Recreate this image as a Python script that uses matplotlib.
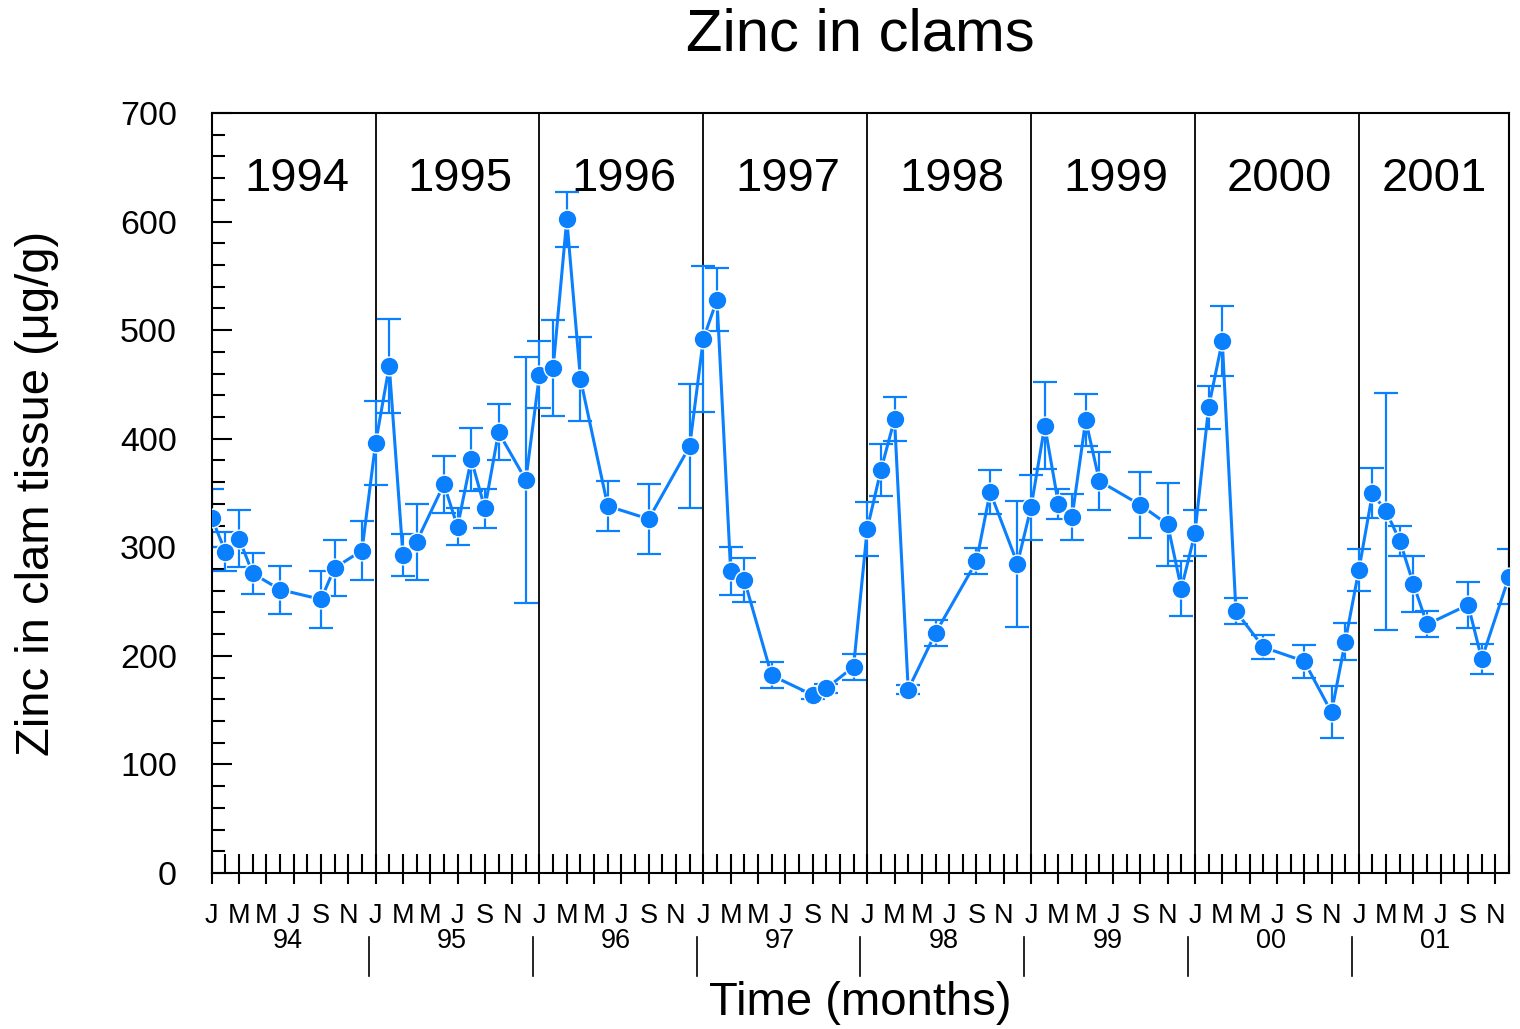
import matplotlib
matplotlib.use('Agg')
import matplotlib.pyplot as plt
from matplotlib.ticker import MultipleLocator, FixedLocator, FixedFormatter

plt.rcParams['font.family'] = ['Liberation Sans', 'DejaVu Sans']

# months counted from Jan 1994 (0 = Jan 94)
month = [0, 1, 2, 3, 5, 8, 9, 11,
         12, 13, 14, 15, 17, 18, 19, 20, 21, 23,
         24, 25, 26, 27, 29, 32, 35,
         36, 37, 38, 39, 41, 44, 45, 47,
         48, 49, 50, 51, 53, 56, 57, 59,
         60, 61, 62, 63, 64, 65, 68, 70, 71,
         72, 73, 74, 75, 77, 80, 82, 83,
         84, 85, 86, 87, 88, 89, 92, 93, 95]
zinc = [327, 296, 308, 276, 261, 252, 281, 297,
        396, 467, 293, 305, 358, 319, 381, 336, 406, 362,
        459, 465, 602, 455, 338, 326, 393,
        492, 528, 278, 270, 182, 164, 170, 190,
        317, 371, 418, 169, 221, 287, 351, 285,
        337, 412, 340, 328, 417, 361, 339, 321, 262,
        313, 429, 490, 241, 208, 195, 148, 213,
        279, 350, 333, 306, 266, 229, 247, 197, 273]
err = [27, 18, 26, 19, 22, 26, 26, 27,
       39, 43, 19, 35, 26, 17, 29, 18, 26, 113,
       31, 44, 25, 39, 23, 32, 57,
       67, 29, 22, 20, 12, 4, 4, 12,
       25, 24, 20, 4, 12, 12, 20, 58,
       30, 40, 14, 21, 24, 27, 30, 38, 25,
       21, 20, 32, 12, 11, 15, 24, 17,
       19, 23, 109, 14, 26, 12, 21, 14, 25]

years = ['1994', '1995', '1996', '1997', '1998', '1999', '2000', '2001']
short_years = ['94', '95', '96', '97', '98', '99', '00', '01']
month_letters = ['J', 'M', 'M', 'J', 'S', 'N']

blue = '#0a80ff'
last = 95

fig = plt.figure(figsize=(15.2, 10.29), dpi=100)
ax = fig.add_axes([0.1393, 0.1516, 0.8535, 0.7386])

ax.errorbar(month, zinc, yerr=err, fmt='none', ecolor=blue, elinewidth=1.6,
            capsize=8.5, capthick=1.6, zorder=2)
ax.plot(month, zinc, '-', color=blue, lw=2.2, zorder=3)
ax.plot(month, zinc, 'o', color=blue, ms=13.5, mec='white', mew=1.0, zorder=4)

ax.set_xlim(0, last)
ax.set_ylim(0, 700)

for s in ax.spines.values():
    s.set_linewidth(1.5)

# year dividers inside the plot
for k in range(1, len(years)):
    ax.axvline(12 * k, color='black', lw=1.3, zorder=1)

for k, y in enumerate(years):
    xc = min(12 * k + 6.2, (12 * k + last) / 2)
    ax.text(xc, 0.913, y, transform=ax.get_xaxis_transform(), ha='center',
            va='center', fontsize=34)

# y ticks
ax.yaxis.set_major_locator(MultipleLocator(100))
ax.yaxis.set_minor_locator(MultipleLocator(20))
ax.tick_params(axis='y', which='major', direction='in', length=14.5, width=1.5,
               labelsize=24.5, pad=25)
ax.tick_params(axis='y', which='minor', direction='in', length=9.5, width=1.5)

# x ticks: every month inside, every other month outside with letters
ax.xaxis.remove_overlapping_locs = False
major_x = list(range(0, last + 1, 2))
ax.xaxis.set_major_locator(FixedLocator(major_x))
ax.xaxis.set_major_formatter(FixedFormatter([month_letters[(m % 12) // 2] for m in major_x]))
ax.xaxis.set_minor_locator(FixedLocator(list(range(0, last + 1))))
ax.tick_params(axis='x', which='major', direction='out', length=8, width=1.5,
               labelsize=19.5, pad=13.5)
ax.tick_params(axis='x', which='minor', direction='in', length=14, width=1.5)

trans = ax.get_xaxis_transform()
for k, y in enumerate(short_years):
    ax.text(12 * k + 5.6, -0.089, y, transform=trans, ha='center', va='center',
            fontsize=19.5, clip_on=False)
for k in range(1, len(years)):
    ax.plot([12 * k - 0.5, 12 * k - 0.5], [-0.0842, -0.1355], transform=trans,
            color='black', lw=1.2, clip_on=False)

fig.text(0.566, 0.966, 'Zinc in clams', ha='center', va='center', fontsize=43)
fig.text(0.566, 0.0253, 'Time (months)', ha='center', va='center', fontsize=34)
fig.text(0.0243, 0.52, 'Zinc in clam tissue (μg/g)', ha='center', va='center',
         rotation=90, fontsize=34)

fig.savefig('out.png', dpi=100)
